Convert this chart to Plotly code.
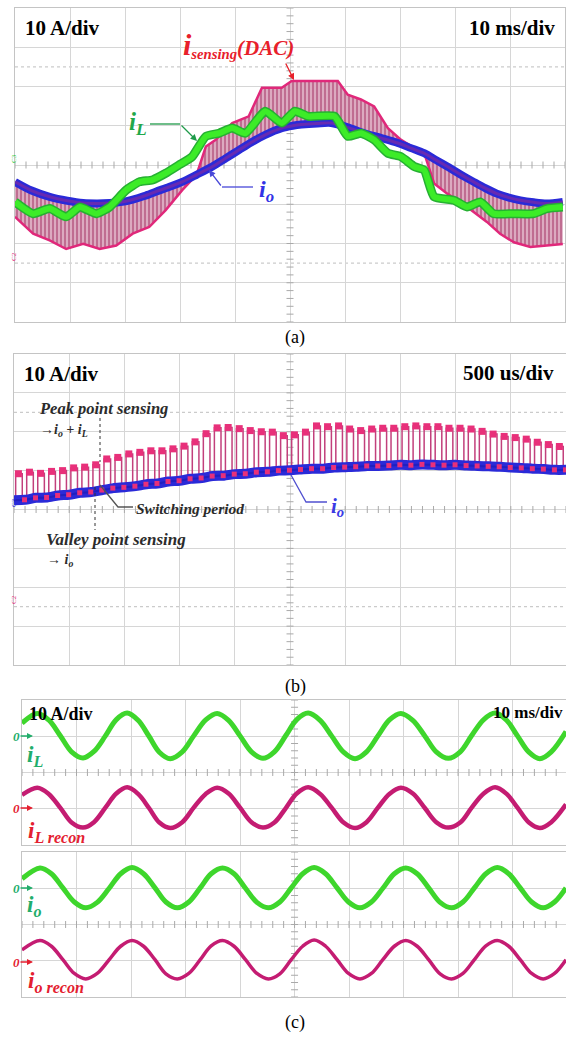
import numpy as np
import plotly.graph_objects as go

# ---------------- panel (a): 10 A/div, 10 ms/div ----------------
a_t_io = [0, 3, 6.3, 9.5, 12.4, 15, 17.2, 19.5, 21.4, 23.5, 25.6, 28, 30.4, 33, 35.9, 38.3,
          40.7, 43, 45.5, 48.5, 50.5, 52.1, 55, 57.5, 60.5, 63.5, 66.5, 69.6, 72, 74.4, 76.5,
          78.6, 81, 83.4, 85.5, 87.6, 89.8, 91.9, 94.3, 96.7, 99.6]
a_io = [-4.3, -6.5, -8.1, -9.1, -9.7, -9.8, -9.7, -9.4, -8.8, -7.9, -6.8, -5.6, -4.3, -2.5,
        -0.4, 1.7, 3.8, 5.8, 7.7, 9.4, 10.0, 10.3, 10.6, 10.7, 9.6, 8.1, 6.9, 5.6, 4.3, 3.0,
        1.3, -0.4, -2.4, -4.3, -5.9, -7.3, -8.3, -9.0, -9.5, -9.8, -9.4]

a_t_il = [0, 3.3, 6.3, 9.3, 11.8, 14.8, 17.2, 20.2, 22.6, 25.0, 27.4, 29.8, 32.2, 34.7, 37.1,
          39.5, 41.9, 45.5, 48.5, 50.9, 53.3, 58.1, 60.5, 62.9, 65.3, 67.8, 70.2, 72.6, 74.4,
          76.2, 79.8, 82.2, 84.6, 87.0, 90.7, 94.3, 96.7, 99.6]
a_il = [-9.4, -12.4, -11.1, -13.2, -10.7, -12.4, -10.7, -6.4, -4.3, -3.8, -2.1, 0.0, 2.1, 7.3,
        8.1, 9.4, 8.1, 13.7, 10.7, 13.7, 12.4, 12.4, 7.3, 8.1, 6.4, 3.0, 2.1, -0.4, -1.3, -8.1,
        -9.0, -10.7, -9.4, -12.4, -12.4, -12.4, -11.1, -10.7]

# outer edge of the DAC sensing band (the other edge follows i_o)
a_t_sens = [0, 3.3, 6.3, 9.3, 12.4, 15.4, 18.4, 21.4, 24.4, 27.4, 30.4, 33.0, 34.7, 36.5, 39.5,
            42.5, 44.9, 48.5, 50.3, 54.5, 58.7, 60.5, 62.9, 65.3, 67.8, 70.2, 72.6, 74.4, 76.2,
            78.6, 82.2, 85.8, 88.2, 90.7, 93.7, 96.7, 99.6]
a_sens = [-13.2, -17.5, -19.2, -21.4, -20.1, -21.4, -20.5, -17.5, -15.8, -11.5, -6.4, -2.5, 4.7,
          6.4, 10.7, 12.4, 19.7, 19.7, 21.4, 21.4, 21.4, 17.9, 16.7, 14.9, 9.4, 6.4, 4.3, 3.0,
          -4.7, -7.3, -10.7, -14.5, -17.5, -19.7, -20.9, -20.5, -20.1]

# ---------------- panel (b): 10 A/div, 500 us/div ----------------
T_SW = 100.0  # switching period [us]
b_peak = [9.2, 9.6, 9.3, 9.8, 10.0, 10.7, 10.9, 11.5, 13.0, 13.4,
          14.3, 14.7, 15.1, 15.1, 15.6, 16.3, 17.4, 19.5, 21.0, 21.1,
          20.8, 20.3, 20.0, 19.9, 19.0, 19.2, 19.9, 21.5, 21.3, 21.5,
          20.7, 20.3, 20.7, 20.9, 20.9, 21.3, 21.5, 21.3, 21.3, 20.9,
          20.9, 20.7, 20.1, 19.4, 18.8, 18.5, 18.1, 17.3, 16.7, 16.2]
b_valley = [2.4, 2.5, 3.0, 3.1, 3.6, 3.8, 4.3, 4.5, 5.0, 5.5,
            5.7, 6.0, 6.5, 6.7, 7.2, 7.4, 7.9, 8.1, 8.6, 8.7,
            9.1, 9.2, 9.6, 9.7, 10.0, 10.1, 10.3, 10.5, 10.5, 10.8,
            10.9, 11.0, 11.2, 11.2, 11.3, 11.5, 11.4, 11.6, 11.5, 11.4,
            11.5, 11.3, 11.2, 11.1, 11.0, 10.8, 10.7, 10.5, 10.4, 10.2, 10.2]

# ---------------- panel (c): 10 A/div, 10 ms/div ----------------
c_t_il = [0, 2.8, 4.9, 7.0, 9.1, 11.2, 13.2, 15.3, 17.3, 19.3, 21.3, 23.3, 25.2, 27.2, 29.4, 31.5,
          33.7, 35.8, 37.9, 40.0, 42.1, 44.2, 46.3, 48.4, 50.4, 52.5, 54.7, 56.8, 59.0, 61.1,
          63.2, 65.3, 67.4, 69.5, 71.7, 73.9, 76.0, 78.2, 80.4, 82.5, 84.7, 86.8, 88.9, 90.9,
          93.0, 95.0, 97.1, 99.8]
c_il = [3.6, 6.3, 4.5, 0.2, -4.3, -6.0, -4.2, 0.1, 4.6, 6.4, 4.4, 0.0, -4.4, -6.2, -4.3, 0.1,
        4.5, 6.3, 4.4, 0.1, -4.3, -6.1, -4.3, 0.2, 4.6, 6.4, 4.4, 0.1, -4.4, -6.2, -4.3, 0.1,
        4.5, 6.3, 4.4, 0.1, -4.3, -6.1, -4.3, 0.2, 4.6, 6.4, 4.4, 0.1, -4.4, -6.2, -4.3, 1.3]
c_il_recon = [3.8, 5.8, 4.1, 0.3, -3.8, -5.2, -3.7, 0.3, 4.2, 5.9, 4.1, 0.2, -3.8, -5.3, -3.7,
              0.3, 4.1, 5.8, 4.2, 0.3, -3.7, -5.2, -3.8, 0.2, 4.2, 5.9, 4.1, 0.3, -3.8, -5.3,
              -3.7, 0.3, 4.1, 5.8, 4.2, 0.2, -3.7, -5.2, -3.8, 0.3, 4.2, 5.9, 4.1, 0.3, -3.8,
              -5.3, -3.7, 1.2]
c_t_io = [0, 3.3, 5.4, 7.5, 9.6, 11.7, 13.8, 16.0, 18.1, 20.2, 22.3, 24.4, 26.4, 28.5, 30.6,
          32.7, 34.7, 36.8, 38.9, 41.0, 43.1, 45.2, 47.3, 49.4, 51.5, 53.6, 55.7, 57.8, 59.9,
          62.0, 64.1, 66.2, 68.3, 70.4, 72.5, 74.6, 76.7, 78.8, 80.9, 83.0, 85.1, 87.2, 89.3,
          91.4, 93.5, 95.6, 97.7, 99.8]
c_io = [2.6, 5.6, 4.0, 0.1, -3.8, -5.4, -3.9, 0.0, 4.0, 5.7, 4.0, 0.1, -3.8, -5.4, -3.8, 0.1,
        4.0, 5.6, 4.0, 0.0, -3.9, -5.4, -3.8, 0.1, 4.0, 5.7, 4.0, 0.1, -3.8, -5.4, -3.8, 0.0,
        4.0, 5.6, 4.0, 0.1, -3.9, -5.4, -3.8, 0.1, 4.0, 5.7, 4.0, 0.1, -3.8, -5.4, -3.8, 0.1]
c_io_recon = [3.0, 5.6, 4.0, 0.3, -3.5, -5.0, -3.5, 0.3, 4.0, 5.6, 4.0, 0.3, -3.6, -5.0, -3.5,
              0.3, 4.1, 5.6, 4.0, 0.3, -3.5, -5.0, -3.6, 0.3, 4.0, 5.7, 4.0, 0.3, -3.5, -5.0,
              -3.5, 0.3, 4.0, 5.6, 4.0, 0.3, -3.6, -5.0, -3.5, 0.3, 4.1, 5.6, 4.0, 0.3, -3.5,
              -5.0, -3.5, 0.3]

# ---------------- styling ----------------
W, H = 566, 1040
SERIF = "Liberation Serif, Times New Roman, serif"
GRID = "#d6d6d6"
FRAME = "#c4c4c4"
TICK = "#a9a9a9"
GREEN = "#3cec28"
GREEN_EDGE = "#26b032"
BLUE = "#2a2ad8"
PURPLE = "#7b2aa6"
PINK = "#e0287a"
RED_TXT = "#e8202a"

fig = go.Figure()


def px(x):
    return x / W


def py(y):
    return 1 - y / H


def screen(n, xdom, ydom, xr, yr, xdiv, ydiv, xc, dotted=True):
    s = "" if n == 1 else str(n)
    fig.update_layout(**{
        f"xaxis{s}": dict(domain=[px(xdom[0]), px(xdom[1])], range=xr, anchor=f"y{s}",
                          dtick=xdiv, tick0=0, showgrid=True, gridcolor=GRID, gridwidth=1,
                          zeroline=False, showticklabels=False, ticks="", showline=True,
                          mirror=True, linecolor=FRAME, linewidth=1, fixedrange=True),
        f"yaxis{s}": dict(domain=[py(ydom[1]), py(ydom[0])], range=yr, anchor=f"x{s}",
                          dtick=ydiv, tick0=0, showgrid=True, gridcolor=GRID, gridwidth=1,
                          zeroline=False, showticklabels=False, ticks="", showline=True,
                          mirror=True, linecolor=FRAME, linewidth=1, fixedrange=True),
    })
    xa, ya = f"x{s}", f"y{s}"
    ymid = (yr[0] + yr[1]) / 2
    # minor ticks on the centre cross of the graticule
    hx = np.arange(xr[0], xr[1] + 1e-9, xdiv / 5)
    vy = np.arange(yr[0], yr[1] + 1e-9, ydiv / 5)
    fig.add_trace(go.Scatter(x=hx, y=[ymid] * len(hx), xaxis=xa, yaxis=ya, mode="markers",
                             marker=dict(symbol="line-ns", size=5, line=dict(width=1, color=TICK)),
                             hoverinfo="skip", showlegend=False))
    fig.add_trace(go.Scatter(x=[xc] * len(vy), y=vy, xaxis=xa, yaxis=ya, mode="markers",
                             marker=dict(symbol="line-ew", size=5, line=dict(width=1, color=TICK)),
                             hoverinfo="skip", showlegend=False))
    if dotted:
        for lv in (2.5 * ydiv, -2.5 * ydiv):
            fig.add_shape(type="line", xref=f"{xa} domain", yref=ya, x0=0, x1=1, y0=lv, y1=lv,
                          line=dict(color="#cbcbcb", width=1.2, dash="dot"), layer="below")
    return xa, ya


def line(xa, ya, x, y, color, width, shape="linear", smoothing=1.0, opacity=1.0):
    fig.add_trace(go.Scatter(x=x, y=y, xaxis=xa, yaxis=ya, mode="lines", opacity=opacity,
                             line=dict(color=color, width=width, shape=shape, smoothing=smoothing),
                             hoverinfo="skip", showlegend=False))


def text(t, x, y, size, color="#000", anchor="left", angle=0):
    fig.add_annotation(text=t, x=px(x), y=py(y), xref="paper", yref="paper", showarrow=False,
                       xanchor=anchor, yanchor="middle", textangle=angle,
                       font=dict(family=SERIF, size=size, color=color))


def leader(points, color, width=1.3, dash="solid"):
    path = "M " + " L ".join(f"{px(a)},{py(b)}" for a, b in points)
    fig.add_shape(type="path", path=path, xref="paper", yref="paper",
                  line=dict(color=color, width=width, dash=dash))


def arrow(head, tail, color, width=1.3, size=1.0):
    fig.add_annotation(x=px(head[0]), y=py(head[1]), xref="paper", yref="paper",
                       ax=tail[0] - head[0], ay=tail[1] - head[1], text="", showarrow=True,
                       arrowhead=2, arrowsize=size, arrowwidth=width, arrowcolor=color)


# ================= (a) =================
xa, ya = screen(1, [15, 565], [8, 322], [0, 100], [-40, 40], 10, 10, 50)
# DAC sensing band: between the i_o trace and the sampled outer edge
band_x = list(a_t_sens) + list(a_t_io[::-1])
band_y = list(a_sens) + list(a_io[::-1])
fig.add_trace(go.Scatter(x=band_x, y=band_y, xaxis=xa, yaxis=ya, mode="lines", fill="toself",
                         fillcolor="#d9a2ba", line=dict(width=0),
                         fillpattern=dict(shape="|", size=4, solidity=0.45, fgcolor="#9c2358",
                                          bgcolor="#dcaac0"),
                         hoverinfo="skip", showlegend=False))
line(xa, ya, a_t_sens, a_sens, PINK, 2.5)
line(xa, ya, a_t_io, a_io, BLUE, 8, "spline", 0.8)
line(xa, ya, a_t_io, a_io, PURPLE, 3, "spline", 0.8, opacity=0.75)
line(xa, ya, a_t_il, a_il, GREEN_EDGE, 9, "spline", 0.5)
line(xa, ya, a_t_il, a_il, GREEN, 6, "spline", 0.5)

text("<b>10 A/div</b>", 23, 28, 21)
text("<b>10 ms/div</b>", 557, 28, 21, anchor="right")
text("<b><i><span style='font-size:30px'>i</span><sub>sensing</sub>(DAC)</i></b>", 181, 45, 21,
     color=RED_TXT)
arrow((294, 80), (285, 62), RED_TXT, 1.3)
text("<b><i>i<sub>L</sub></i></b>", 127, 123, 25, color="#1fa84a")
leader([(150, 124), (180, 124)], "#1f9a4a")
arrow((197, 141), (180, 124), "#1f9a4a")
text("<b><i>i<sub>o</sub></i></b>", 257, 191, 24, color="#3232e6")
leader([(253, 187), (222, 187)], "#4848d8")
arrow((209, 170), (222, 187), "#4848d8")
text("C3", 8, 159, 7, color="#33cc44", angle=-90)
text("C2", 8, 257, 7, color="#e0287a", angle=-90)
text("(a)", 283, 338, 18)

# ================= (b) =================
xa, ya = screen(2, [14, 566], [354, 665], [0, 5000], [-40, 40], 500, 10, 2500)
# sampled DAC output: peak (i_o + i_L) during each switching period, valley (i_o) otherwise
pulse_x, pulse_y = [0], [b_valley[0]]
for k, pk in enumerate(b_peak):
    t0 = k * T_SW + 15
    pulse_x += [t0, t0, t0 + 60, t0 + 60]
    pulse_y += [b_valley[k], pk, pk, b_valley[k + 1]]
pulse_x.append(len(b_peak) * T_SW)
pulse_y.append(b_valley[-1])
line(xa, ya, pulse_x, pulse_y, "#c2407c", 1.5)
t_val = [k * T_SW for k in range(len(b_valley))]
line(xa, ya, t_val, b_valley, BLUE, 10, "spline", 0.6)
line(xa, ya, t_val, b_valley, "#1a1ab0", 2, "spline", 0.6, opacity=0.6)
fig.add_trace(go.Scatter(x=[k * T_SW + 40 for k in range(len(b_peak))], y=b_peak, xaxis=xa,
                         yaxis=ya, mode="markers",
                         marker=dict(symbol="square", size=7, color="#e8307a"),
                         hoverinfo="skip", showlegend=False))
fig.add_trace(go.Scatter(x=[k * T_SW + 95 for k in range(len(b_peak))], y=b_valley[1:],
                         xaxis=xa, yaxis=ya, mode="markers",
                         marker=dict(symbol="square", size=5, color="#e8307a"),
                         hoverinfo="skip", showlegend=False))

TXT_B = "#2b2b2b"
text("<b>10 A/div</b>", 22, 374, 21)
text("<b>500 us/div</b>", 556, 373, 21, anchor="right")
text("<b><i>Peak point sensing</i></b>", 37, 409, 16.5, color=TXT_B)
text("<b><i>\u2192i<sub>o</sub> + i<sub>L</sub></i></b>", 38, 430, 14, color=TXT_B)
text("<b><i>Switching period</i></b>", 134, 508, 15.5, color=TXT_B)
text("<b><i>Valley point sensing</i></b>", 44, 539, 17, color=TXT_B)
text("<b><i>\u2192 i<sub>o</sub></i></b>", 45, 560, 14, color=TXT_B)
leader([(100, 418), (100, 462)], "#333", 1, "dot")
leader([(95, 487), (95, 530)], "#333", 1, "dot")
leader([(133, 507), (118, 507), (100, 485)], "#555", 1.3)
text("<b><i>i<sub>o</sub></i></b>", 329, 507, 21, color="#3a3ae6")
leader([(327, 502), (306, 502), (291, 475)], "#5050d0", 1.3)
text("C3", 8, 503, 7, color="#2a2ad8", angle=-90)
text("C2", 8, 600, 7, color="#e0287a", angle=-90)
text("(b)", 283, 686, 18)

# ================= (c) =================
xa3, ya3 = screen(3, [22, 566], [700, 845], [0, 99.8], [-20, 20], 10, 10, 50, dotted=False)
xa4, ya4 = screen(4, [22, 566], [852, 997], [0, 99.8], [-20, 20], 10, 10, 50, dotted=False)
POS_UP, POS_DN = 10, -10  # channel display positions on each screen
C_GREEN = "#3ed62c"
C_PINK = "#c41c72"
line(xa3, ya3, c_t_il, [v + POS_UP for v in c_il], C_GREEN, 5, "spline", 1.0)
line(xa3, ya3, c_t_il, [v + POS_DN for v in c_il_recon], C_PINK, 4.5, "spline", 1.0)
line(xa4, ya4, c_t_io, [v + POS_UP for v in c_io], C_GREEN, 5, "spline", 1.0)
line(xa4, ya4, c_t_io, [v + POS_DN for v in c_io_recon], C_PINK, 3.5, "spline", 1.0)

text("<b>10 A/div</b>", 27, 714, 18)
text("<b>10 ms/div</b>", 565, 712, 17, anchor="right")
LBL_G = "#22ad6b"
# zero-level markers of the four channels
for yy, col in ((736, LBL_G), (808, "#e42030"), (888, LBL_G), (962, "#e42030")):
    text("<b><i>0</i></b>", 11, yy, 13, color=col)
    arrow((33, yy), (19, yy), col, 1.5, 0.8)
text("<b><i>i<sub>L</sub></i></b>", 25, 756, 23, color=LBL_G)
text("<b><i>i<sub>L recon</sub></i></b>", 26, 832, 23, color="#e42030")
text("<b><i>i<sub>o</sub></i></b>", 25, 906, 23, color=LBL_G)
text("<b><i>i<sub>o recon</sub></i></b>", 26, 982, 23, color="#e42030")
text("(c)", 283, 1022, 18)

fig.update_layout(width=W, height=H, margin=dict(l=0, r=0, t=0, b=0),
                  paper_bgcolor="white", plot_bgcolor="white", showlegend=False)
fig.write_html("out.html")
